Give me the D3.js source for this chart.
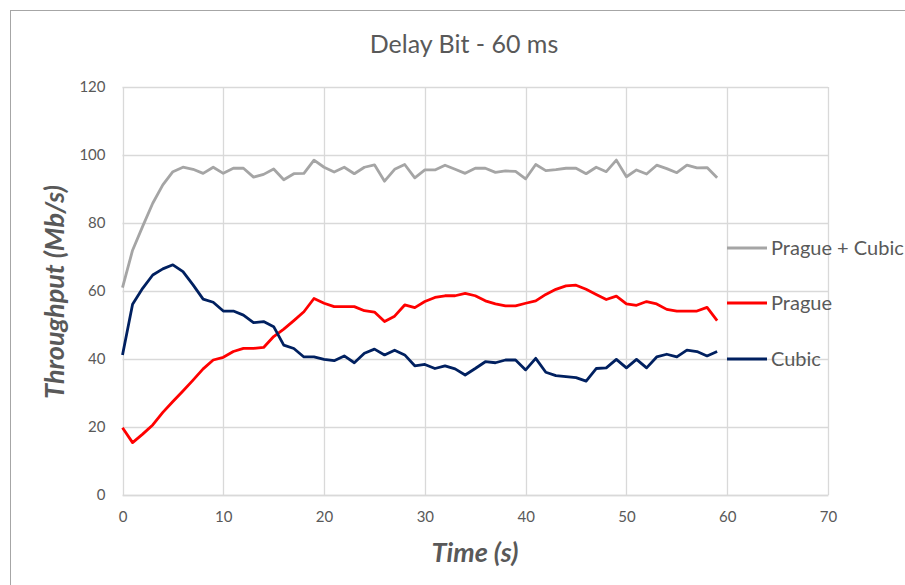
<!DOCTYPE html>
<html>
<head>
<meta charset="utf-8">
<script src="https://cdn.jsdelivr.net/npm/d3@7"></script>
<style>
  body { margin: 0; background: #fff; }
  svg { display: block; font-family: Lato, "Open Sans", sans-serif; }
</style>
</head>
<body>
<svg id="chart" width="905" height="585"></svg>
<script>
// time in seconds, 0..59
const seconds = d3.range(0, 60);

const pragueCubic = [61, 72, 79, 85.8, 91.2, 95.1, 96.4, 95.8, 94.6, 96.4,
  94.6, 96.1, 96.1, 93.5, 94.3, 95.9, 92.7, 94.5, 94.6, 98.5,
  96.4, 95, 96.4, 94.5, 96.4, 97.1, 92.3, 95.8, 97.2, 93.3,
  95.6, 95.6, 97, 95.8, 94.6, 96.1, 96.1, 94.9, 95.3, 95.2,
  93, 97.2, 95.4, 95.7, 96.1, 96.1, 94.5, 96.4, 95.1, 98.5,
  93.6, 95.6, 94.4, 97, 96, 94.8, 97, 96.2, 96.3, 93.3];

const prague = [19.8, 15.4, 17.9, 20.6, 24.3, 27.5, 30.6, 33.8, 37.1, 39.7,
  40.5, 42.2, 43.1, 43.1, 43.4, 46.6, 48.8, 51.3, 53.9, 57.8,
  56.4, 55.4, 55.4, 55.4, 54.2, 53.8, 51, 52.6, 55.9, 55.1,
  56.9, 58.1, 58.6, 58.6, 59.3, 58.6, 57.1, 56.2, 55.6, 55.6,
  56.4, 57.1, 59, 60.5, 61.5, 61.7, 60.5, 59, 57.5, 58.5,
  56.2, 55.8, 56.9, 56.2, 54.6, 54.1, 54.1, 54.1, 55.2, 51.3];

const cubic = [41.2, 56.1, 60.8, 64.7, 66.5, 67.7, 65.7, 61.8, 57.6, 56.7,
  54.1, 54.1, 52.9, 50.7, 51, 49.5, 44.1, 43.1, 40.6, 40.6,
  39.9, 39.5, 40.9, 38.9, 41.7, 42.9, 41.2, 42.6, 41.2, 38,
  38.4, 37.2, 38, 37.1, 35.3, 37.2, 39.2, 38.9, 39.7, 39.7,
  36.8, 40.2, 36.1, 35.1, 34.8, 34.5, 33.5, 37.2, 37.4, 39.9,
  37.4, 39.9, 37.4, 40.6, 41.4, 40.6, 42.6, 42.2, 40.9, 42.2];

const seriesNames = ["Prague + Cubic", "Prague", "Cubic"];
const seriesColors = ["#a5a5a5", "#ff0000", "#002060"];
const xTicks = [0, 10, 20, 30, 40, 50, 60, 70];
const yTicks = [0, 20, 40, 60, 80, 100, 120];

const svg = d3.select("#chart");
const textColor = "#595959";

// outer chart frame
svg.append("rect")
  .attr("x", 10.5).attr("y", 10.5)
  .attr("width", 1000).attr("height", 1000)
  .attr("fill", "none")
  .attr("stroke", "#a6a6a6");

const x = d3.scaleLinear().domain([0, 70]).range([122.5, 828]);
const y = d3.scaleLinear().domain([0, 120]).range([495, 87]);

// grid
const grid = svg.append("g");
grid.selectAll(".vgrid").data(xTicks).enter().append("line")
  .attr("x1", d => Math.round(x(d)) + 0.5).attr("x2", d => Math.round(x(d)) + 0.5)
  .attr("y1", y(120)).attr("y2", y(0))
  .attr("stroke", "#d9d9d9").attr("stroke-width", 1.3);
grid.selectAll(".hgrid").data(yTicks).enter().append("line")
  .attr("x1", x(0)).attr("x2", x(70))
  .attr("y1", d => Math.round(y(d)) + 0.5).attr("y2", d => Math.round(y(d)) + 0.5)
  .attr("stroke", "#d9d9d9").attr("stroke-width", 1.3);

// axes (labels only)
const xAxis = d3.axisBottom(x).tickValues(xTicks).tickSize(0).tickPadding(16);
const yAxis = d3.axisLeft(y).tickValues(yTicks).tickSize(0).tickPadding(17);

svg.append("g").attr("transform", `translate(0,${y(0)})`).call(xAxis)
  .call(g => g.select(".domain").attr("stroke", "#d9d9d9").attr("stroke-width", 1.3))
  .selectAll("text").attr("fill", textColor).style("font-size", "15px")
  .style("font-family", "Lato, sans-serif");

svg.append("g").attr("transform", `translate(${x(0)},0)`).call(yAxis)
  .call(g => g.select(".domain").remove())
  .selectAll("text").attr("fill", textColor).style("font-size", "15px")
  .style("font-family", "Lato, sans-serif");

// lines
const line = d3.line().x((d, i) => x(seconds[i])).y(d => y(d));
[pragueCubic, prague, cubic].forEach((s, i) => {
  svg.append("path")
    .datum(s)
    .attr("d", line)
    .attr("fill", "none")
    .attr("stroke", seriesColors[i])
    .attr("stroke-width", 2.8)
    .attr("stroke-linejoin", "round");
});

// legend
const legendY = [248, 303, 359];
seriesNames.forEach((name, i) => {
  svg.append("line")
    .attr("x1", 727).attr("x2", 767)
    .attr("y1", legendY[i]).attr("y2", legendY[i])
    .attr("stroke", seriesColors[i]).attr("stroke-width", 2.8);
  svg.append("text")
    .attr("x", 771).attr("y", legendY[i])
    .attr("dy", "0.35em")
    .attr("fill", textColor)
    .style("font-size", "20px")
    .text(name);
});

// title
svg.append("text")
  .attr("x", 464).attr("y", 53)
  .attr("text-anchor", "middle")
  .attr("fill", textColor)
  .style("font-size", "25px")
  .text("Delay Bit - 60 ms");

// axis titles
svg.append("text")
  .attr("x", 475).attr("y", 562)
  .attr("text-anchor", "middle")
  .attr("fill", textColor)
  .style("font-size", "27px")
  .style("font-weight", "bold")
  .style("font-style", "italic")
  .text("Time (s)");

svg.append("text")
  .attr("transform", "translate(64,292) rotate(-90)")
  .attr("text-anchor", "middle")
  .attr("fill", textColor)
  .style("font-size", "27px")
  .style("font-weight", "bold")
  .style("font-style", "italic")
  .text("Throughput (Mb/s)");
</script>
</body>
</html>
